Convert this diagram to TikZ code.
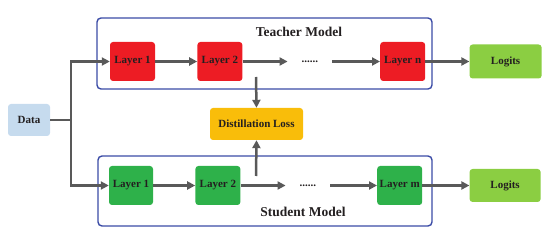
\documentclass[tikz,border=0pt]{standalone}
\usepackage{fontspec}
\setmainfont{Liberation Serif}
\usepackage{xcolor}
\usetikzlibrary{positioning,arrows.meta}

\definecolor{layerred}{HTML}{ED1C24}
\definecolor{layergreen}{HTML}{2EB14A}
\definecolor{logitgreen}{HTML}{8BCE42}
\definecolor{datablue}{HTML}{C6DBEE}
\definecolor{lossyellow}{HTML}{F9BD0A}
\definecolor{framblue}{HTML}{3A4BA6}
\definecolor{arrgray}{HTML}{595959}
\definecolor{txt}{HTML}{231F20}

\tikzset{
  layer/.style={rounded corners=3pt, minimum width=45pt, minimum height=39pt, inner sep=0pt,
                text=txt, font=\bfseries\fontsize{11}{13}\selectfont},
  frame/.style={draw=framblue, line width=1.4pt, rounded corners=4pt, inner sep=0pt},
  title/.style={text=txt, font=\bfseries\fontsize{13.5}{15}\selectfont},
  dots/.style={minimum width=44pt, inner sep=0pt, text=txt, font=\bfseries\fontsize{11}{13}\selectfont},
  arr/.style={draw=arrgray, line width=2.5pt, -{Triangle[length=8pt,width=8pt]}}
}

\begin{document}
\begin{tikzpicture}[x=1pt,y=1pt]
\useasboundingbox (0,0) rectangle (560,-248);

\node(teacher) [frame, minimum width=335pt, minimum height=71pt] at (264.5,-53.5) {};
\node(student) [frame, minimum width=334pt, minimum height=70pt] at (265,-191)  {};
\node(tname)   [title] at (299,-32)  {Teacher Model};
\node(sname)   [title] at (303,-212) {Student Model};

\node(t1)   [layer, fill=layerred] at (132.5,-61.5)       {Layer 1};
\node(t2)   [layer, fill=layerred, right = 42pt of t1]    {Layer 2};
\node(tdot) [dots, right = 45pt of t2]                    {......};
\node(tn)   [layer, fill=layerred, right = 48pt of tdot]  {Layer n};
\node(tlog) [layer, fill=logitgreen, minimum width=72pt, minimum height=34pt,
             right = 44pt of tn]                          {Logits};

\node(s1)   [layer, fill=layergreen, minimum width=44pt] at (131,-185.5) {Layer 1};
\node(s2)   [layer, fill=layergreen, right = 42pt of s1]   {Layer 2};
\node(sdot) [dots, right = 45pt of s2]                     {......};
\node(sm)   [layer, fill=layergreen, right = 47pt of sdot] {Layer m};
\node(slog) [layer, fill=logitgreen, minimum width=71pt, minimum height=33pt,
             right = 47pt of sm]                           {Logits};

\node(data) [layer, fill=datablue, minimum width=42pt, minimum height=32pt] at (29,-120) {Data};
\node(loss) [layer, fill=lossyellow, minimum width=93pt, minimum height=32pt] at (256.5,-124) {Distillation Loss};

\coordinate(split) at (71,-120);
\coordinate(tout)  at (256,-77);
\coordinate(sout)  at (256,-176);

\draw[arr] (data.east) -- (split) |- (t1.west);
\draw[arr] (split) |- (s1.west);
\foreach \a/\b in {t1/t2,t2/tdot,tdot/tn,tn/tlog,s1/s2,s2/sdot,sdot/sm,sm/slog} {
\draw[arr] (\a) -- (\b);
}
\draw[arr] (tout) -- (loss.north);
\draw[arr] (sout) -- (loss.south);
\end{tikzpicture}
\end{document}
